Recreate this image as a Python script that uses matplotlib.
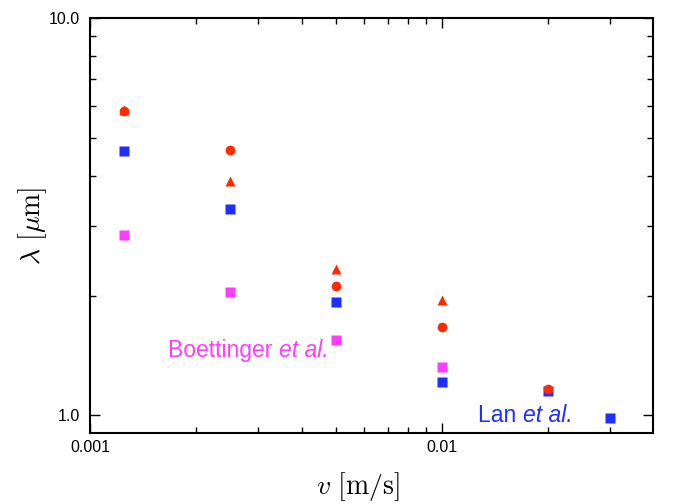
import numpy as np
import matplotlib.pyplot as plt
from matplotlib.ticker import FixedLocator, LogLocator, NullFormatter, FixedFormatter

plt.rcParams['font.family'] = ['Liberation Sans', 'DejaVu Sans']
plt.rcParams['mathtext.fontset'] = 'cm'

# velocidades [m/s] y espaciados [um]
v_circ = [0.00125, 0.0025, 0.005, 0.01, 0.02]
lam_circ = [5.83, 4.65, 2.11, 1.67, 1.163]

v_tri = [0.00125, 0.0025, 0.005, 0.01]
lam_tri = [5.85, 3.88, 2.33, 1.95]

v_lan = [0.00125, 0.0025, 0.005, 0.01, 0.02, 0.03]
lam_lan = [4.62, 3.30, 1.93, 1.21, 1.149, 0.983]

v_boet = [0.00125, 0.0025, 0.005, 0.01]
lam_boet = [2.84, 2.04, 1.545, 1.32]

rojo = '#ff2a00'
azul = '#1f2dff'
magenta = '#ff3cff'

fig = plt.figure(figsize=(6.73, 5.04), dpi=100)
ax = fig.add_axes([90/673, 1 - 433/504, (653-90)/673, (433-18)/504])

ax.plot(v_boet, lam_boet, 's', color=magenta, ms=6.5, mec='none')
ax.plot(v_lan, lam_lan, 's', color=azul, ms=6.5, mec='none')
ax.plot(v_tri, lam_tri, '^', color=rojo, ms=6.5, mec='none')
ax.plot(v_circ, lam_circ, 'o', color=rojo, ms=7, mec='none')

ax.set_xscale('log')
ax.set_yscale('log')
ax.set_xlim(0.001, 0.0397)
ax.set_ylim(0.901, 10)

ax.xaxis.set_major_locator(FixedLocator([0.001, 0.01]))
ax.xaxis.set_major_formatter(FixedFormatter(['0.001', '0.01']))
ax.xaxis.set_minor_locator(LogLocator(base=10, subs=np.arange(2, 10)))
ax.xaxis.set_minor_formatter(NullFormatter())
ax.yaxis.set_major_locator(FixedLocator([1.0, 10.0]))
ax.yaxis.set_major_formatter(FixedFormatter(['1.0', '10.0']))
ax.yaxis.set_minor_locator(LogLocator(base=10, subs=np.arange(2, 10)))
ax.yaxis.set_minor_formatter(NullFormatter())

ax.tick_params(which='both', direction='in', top=True, right=True, labelsize=11.5, width=1)
ax.tick_params(which='major', length=7)
ax.tick_params(which='minor', length=4)
ax.tick_params(axis='x', pad=5)
ax.tick_params(axis='y', pad=7)
for s in ax.spines.values():
    s.set_linewidth(1.5)

# etiquetas de las series, con "et al." en cursiva
t1 = ax.text(0.001666, 1.458, 'Boettinger ', color=magenta, fontsize=16.5, ha='left', va='center')
ax.annotate('et al.', xy=(1, 0), xycoords=t1, va='bottom', ha='left',
            color=magenta, fontsize=16.5, style='italic')
t2 = ax.text(0.01265, 1.0, 'Lan ', color=azul, fontsize=16.5, ha='left', va='center')
ax.annotate('et al.', xy=(1, 0), xycoords=t2, va='bottom', ha='left',
            color=azul, fontsize=16.5, style='italic')

ax.set_xlabel(r'$v\ [\mathrm{m/s}]$', fontsize=20)
ax.xaxis.set_label_coords(0.475, -0.09)
ax.set_ylabel(r'$\lambda\ [\mu\mathrm{m}]$', fontsize=20, labelpad=0)

fig.savefig('out.png', dpi=100)
